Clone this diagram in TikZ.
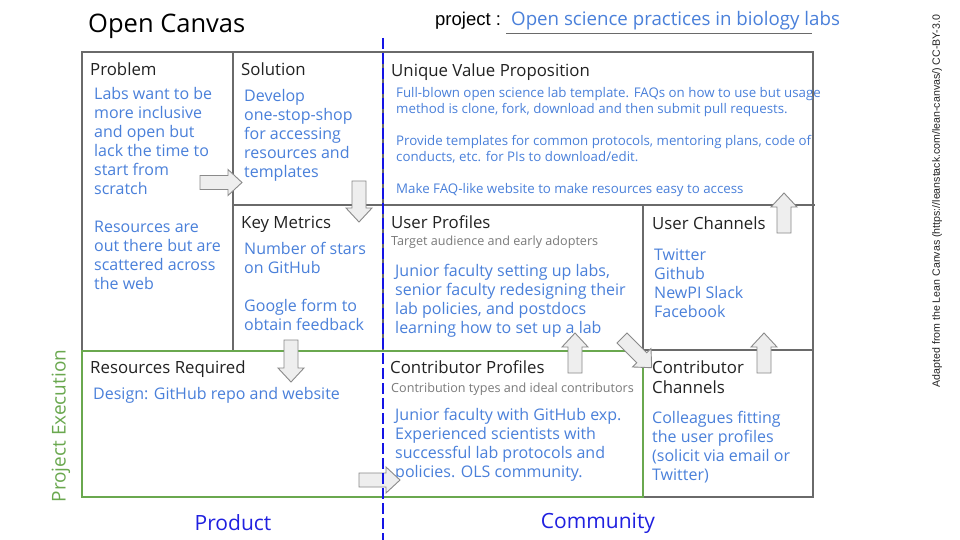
\documentclass[tikz,border=0pt]{standalone}
\usepackage{fontspec}
\setmainfont{Open Sans}
\newfontfamily\arialfont{Liberation Sans}
\definecolor{headc}{HTML}{222222}
\definecolor{contc}{HTML}{4A80DA}
\definecolor{subc}{HTML}{7A7A7A}
\definecolor{gridc}{HTML}{6A6A6A}
\definecolor{greenc}{HTML}{6AA84F}
\definecolor{dashc}{HTML}{1414E6}
\definecolor{labc}{HTML}{2020E0}
\definecolor{arrowfill}{HTML}{EEEEEE}
\definecolor{arrowgray}{HTML}{8A8A8A}
\newcommand{\mlin}[1]{\begin{tabular}[t]{@{}l@{}}#1\end{tabular}}
\tikzset{
  hd/.style={anchor=base west, inner sep=0pt, text=headc, font=\fontsize{16.8}{20}\selectfont},
  ct/.style={anchor=base west, inner sep=0pt, text=contc, font=\fontsize{16}{19}\selectfont},
  ctsmall/.style={anchor=base west, inner sep=0pt, text=contc, font=\fontsize{13.3}{16}\selectfont},
  sub/.style={anchor=base west, inner sep=0pt, text=subc, font=\fontsize{12.6}{14}\selectfont},
  gridline/.style={draw=gridc, line width=1.2pt},
  greenline/.style={draw=greenc, line width=2.4pt},
  blk/.style={draw=arrowgray, fill=arrowfill, line width=0.9pt, line join=miter},
}
\newcommand{\blkarrow}[4]{%
  \begin{scope}[shift={(#1,#2)},rotate=#3]
    \draw[blk] (0,-7) -- ({#4-14},-7) -- ({#4-14},-13) -- (#4,0) -- ({#4-14},13) -- ({#4-14},7) -- (0,7) -- cycle;
  \end{scope}}
\begin{document}
\begin{tikzpicture}[x=1pt,y=-1pt]
\useasboundingbox[fill=white] (0,0) rectangle (960,540);

% grid
\draw[gridline] (82,52) rectangle (813,497);
\draw[gridline] (233,52) -- (233,350);
\draw[gridline] (383,52) -- (383,350);
\draw[gridline] (233,205) -- (815,205);
\draw[gridline] (643,205) -- (643,497);
\draw[gridline] (643,350) -- (813,350);
\draw[greenline] (82,351) rectangle (643,497);

% header
\node[anchor=base west, inner sep=0pt, text=black, font=\fontsize{25.5}{30}\selectfont] (title) at (88,33) {Open Canvas};
\node[anchor=base west, inner sep=0pt, text=black, font=\arialfont\fontsize{18.5}{22}\selectfont] (projlab) at (435,26) {project :};
\node[anchor=base west, inner sep=0pt, text=contc, font=\fontsize{18.7}{22}\selectfont] (projname) at (511,26) {Open science practices in biology labs};
\draw[draw=gridc, line width=0.8pt] (506,33) -- (812,33);

% Problem
\node[hd] (probh) at (90,76) {Problem};
\node[ct] (probt) at (94,100) {\mlin{Labs want to be\\more inclusive\\and open but\\lack the time to\\start from\\scratch\\[19pt]Resources are\\out there but are\\scattered across\\the web}};

% Solution
\node[hd] (solh) at (241,76) {Solution};
\node[ct] (solt) at (244,102) {\mlin{Develop\\one-stop-shop\\for accessing\\resources and\\templates}};

% UVP
\node[hd] (uvph) at (391,77) {Unique Value Proposition};
\node[ctsmall] (uvpt) at (396,98) {\mlin{Full-blown open science lab template. FAQs on how to use but usage\\method is clone, fork, download and then submit pull requests.\\[16pt]Provide templates for common protocols, mentoring plans, code of\\conducts, etc. for PIs to download/edit.\\[16pt]Make FAQ-like website to make resources easy to access}};

% Key Metrics
\node[hd] (kmh) at (241,228) {Key Metrics};
\node[ct] (kmt) at (244,254) {\mlin{Number of stars\\on GitHub\\[19pt]Google form to\\obtain feedback}};

% User Profiles
\node[hd] (uph) at (391,228) {User Profiles};
\node[sub] (ups) at (391,245) {Target audience and early adopters};
\node[ct] (upt) at (395,276) {\mlin{Junior faculty setting up labs,\\senior faculty redesigning their\\lab policies, and postdocs\\learning how to set up a lab}};

% User Channels
\node[hd] (uch) at (652,229) {User Channels};
\node[ct] (uct) at (654,260) {\mlin{Twitter\\Github\\NewPI Slack\\Facebook}};

% Resources Required
\node[hd] (rrh) at (90,373) {Resources Required};
\node[ct] (rrt) at (93,399) {Design: GitHub repo and website};

% Contributor Profiles
\node[hd] (cph) at (390,373) {Contributor Profiles};
\node[sub] (cps) at (391,392) {Contribution types and ideal contributors};
\node[ct] (cpt) at (395,420) {\mlin{Junior faculty with GitHub exp.\\Experienced scientists with\\successful lab protocols and\\policies. OLS community.}};

% Contributor Channels
\node[hd] (cch) at (652,373) {\mlin{Contributor\\Channels}};
\node[ct] (cct) at (652,423) {\mlin{Colleagues fitting\\the user profiles\\(solicit via email or\\Twitter)}};

% block arrows
\blkarrow{200}{182.5}{0}{42}
\blkarrow{359}{181}{-90}{41}
\blkarrow{291}{340}{-90}{42}
\blkarrow{359}{480}{0}{41}
\blkarrow{575}{373}{90}{40}
\blkarrow{622}{338}{-45}{42}
\blkarrow{764}{373}{90}{40}
\blkarrow{784}{233}{90}{40}

% blue dashed divider
\draw[draw=dashc, line width=2.4pt, dash pattern=on 11pt off 4pt] (383,38) -- (383,540);

% bottom labels
\node[inner sep=0pt, text=labc, font=\fontsize{21}{24}\selectfont] (prod) at (233,523) {Product};
\node[inner sep=0pt, text=labc, font=\fontsize{21}{24}\selectfont] (comm) at (598,523) {Community};
\node[inner sep=0pt, text=greenc, rotate=90, font=\fontsize{19}{22}\selectfont] (pexec) at (61,426) {Project Execution};

% credit
\node[inner sep=0pt, text=headc, rotate=90, font=\arialfont\fontsize{10.6}{12}\selectfont] (credit) at (937,201) {Adapted from the Lean Canvas (https://leanstack.com/lean-canvas/) CC-BY-3.0};
\end{tikzpicture}
\end{document}
